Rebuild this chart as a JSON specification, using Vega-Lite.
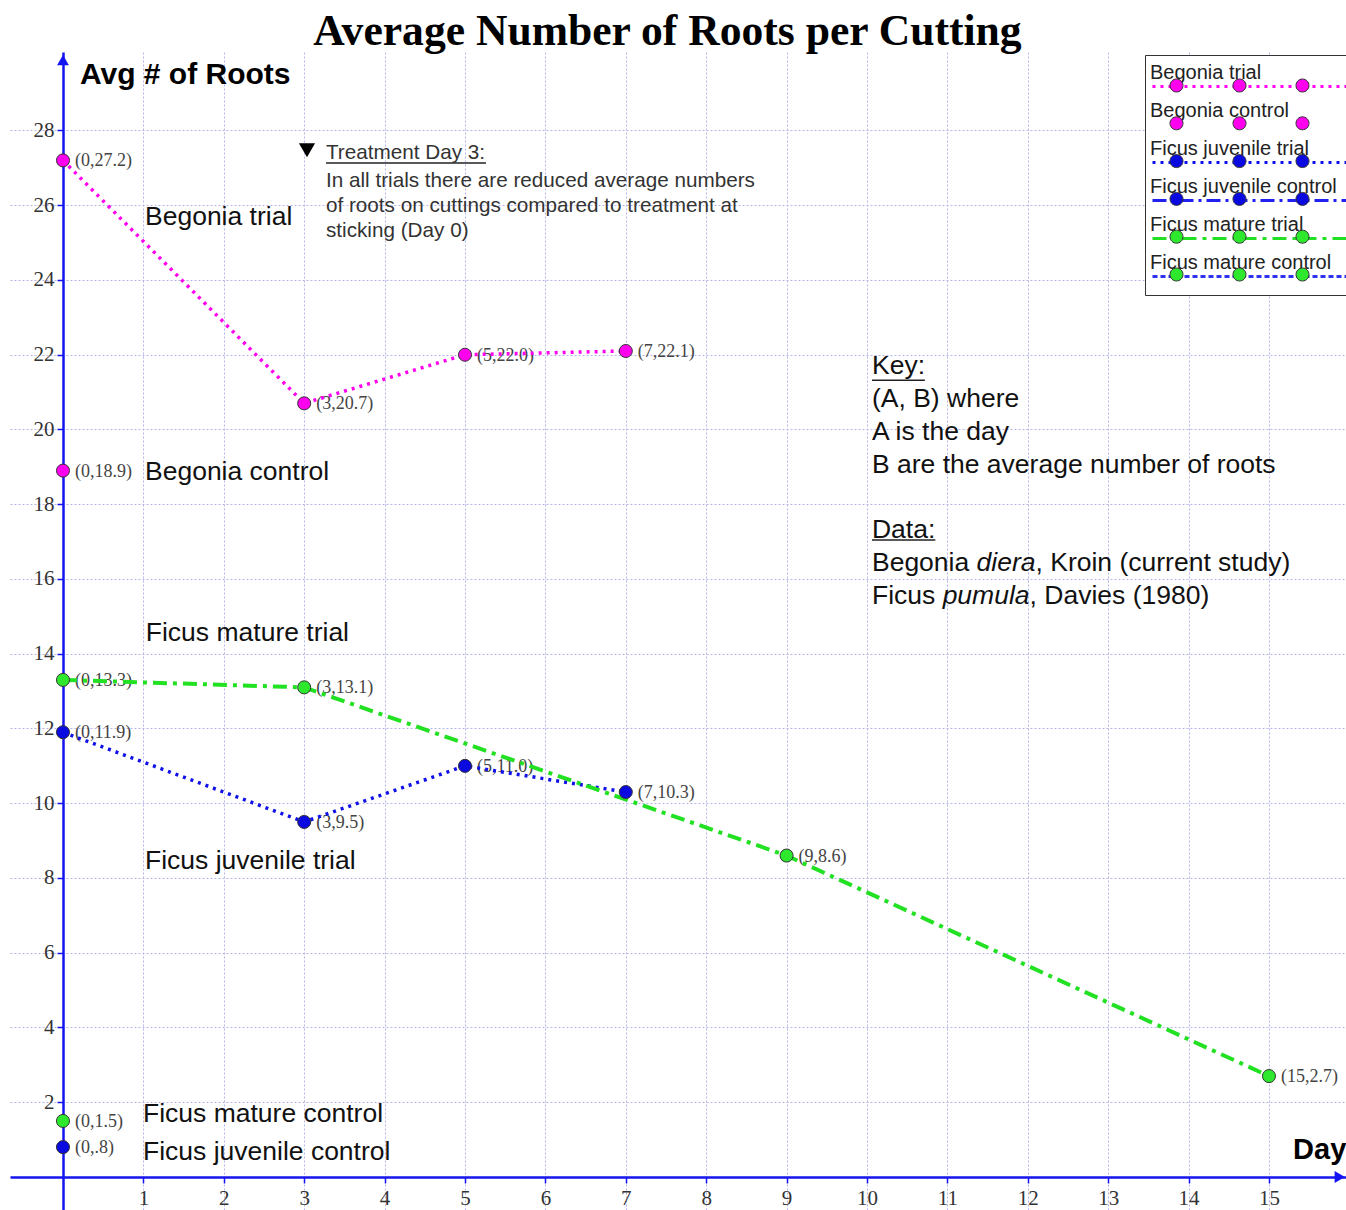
{
  "$schema": "https://vega.github.io/schema/vega-lite/v6.json",
  "width": 1336,
  "height": 1158,
  "autosize": {"type": "none"},
  "padding": {"left": 10, "top": 52, "right": 0, "bottom": 0},
  "background": "white",
  "config": {
    "view": {"stroke": null},
    "axis": {"gridColor": "#b4b4ea", "gridDash": [2, 2], "gridWidth": 1, "labelFont": "Liberation Serif", "labelFontSize": 21, "labelColor": "#333", "domainColor": "#1414f0", "domainWidth": 2.5, "tickColor": "#1414f0", "tickWidth": 1.5, "tickSize": 6}
  },
  "datasets": {
    "roots": [
      {"series": "Begonia trial", "day": 0, "roots": 27.2, "label": "(0,27.2)"},
      {"series": "Begonia trial", "day": 3, "roots": 20.7, "label": "(3,20.7)"},
      {"series": "Begonia trial", "day": 5, "roots": 22.0, "label": "(5,22.0)"},
      {"series": "Begonia trial", "day": 7, "roots": 22.1, "label": "(7,22.1)"},
      {"series": "Begonia control", "day": 0, "roots": 18.9, "label": "(0,18.9)"},
      {"series": "Ficus juvenile trial", "day": 0, "roots": 11.9, "label": "(0,11.9)"},
      {"series": "Ficus juvenile trial", "day": 3, "roots": 9.5, "label": "(3,9.5)"},
      {"series": "Ficus juvenile trial", "day": 5, "roots": 11.0, "label": "(5,11.0)"},
      {"series": "Ficus juvenile trial", "day": 7, "roots": 10.3, "label": "(7,10.3)"},
      {"series": "Ficus juvenile control", "day": 0, "roots": 0.8, "label": "(0,.8)"},
      {"series": "Ficus mature trial", "day": 0, "roots": 13.3, "label": "(0,13.3)"},
      {"series": "Ficus mature trial", "day": 3, "roots": 13.1, "label": "(3,13.1)"},
      {"series": "Ficus mature trial", "day": 9, "roots": 8.6, "label": "(9,8.6)"},
      {"series": "Ficus mature trial", "day": 15, "roots": 2.7, "label": "(15,2.7)"},
      {"series": "Ficus mature control", "day": 0, "roots": 1.5, "label": "(0,1.5)"}
    ],
    "seriesNames": [
      {"text": "Begonia trial", "day": 1.02, "roots": 25.68},
      {"text": "Begonia control", "day": 1.02, "roots": 18.86},
      {"text": "Ficus mature trial", "day": 1.03, "roots": 14.55},
      {"text": "Ficus juvenile trial", "day": 1.02, "roots": 8.45},
      {"text": "Ficus mature control", "day": 0.995, "roots": 1.685},
      {"text": "Ficus juvenile control", "day": 0.995, "roots": 0.669}
    ],
    "treatment": [
      {"text": "Treatment Day 3:", "day": 3.271, "roots": 27.39},
      {"text": "In all trials there are reduced average numbers", "day": 3.271, "roots": 26.65},
      {"text": "of roots on cuttings compared to treatment at", "day": 3.271, "roots": 25.98},
      {"text": "sticking (Day 0)", "day": 3.271, "roots": 25.31}
    ],
    "keyText": [
      {"text": "Key:", "day": 10.062, "roots": 21.70},
      {"text": "(A, B) where", "day": 10.062, "roots": 20.81},
      {"text": "A is the day", "day": 10.062, "roots": 19.93},
      {"text": "B are the average number of roots", "day": 10.062, "roots": 19.05},
      {"text": "Data:", "day": 10.062, "roots": 17.31},
      {"text": "Begonia", "day": 10.062, "roots": 16.43},
      {"text": ", Kroin (current study)", "day": 12.096, "roots": 16.43},
      {"text": "Ficus", "day": 10.062, "roots": 15.54},
      {"text": ", Davies (1980)", "day": 12.022, "roots": 15.54}
    ],
    "keyItalic": [
      {"text": "diera", "day": 11.363, "roots": 16.43},
      {"text": "pumula", "day": 10.941, "roots": 15.54}
    ],
    "underlines": [
      {"day": 3.271, "day2": 5.261, "roots": 27.13},
      {"day": 10.062, "day2": 10.72, "roots": 21.32},
      {"day": 10.062, "day2": 10.85, "roots": 17.04}
    ]
  },
  "encoding": {
    "x": {"field": "day", "type": "quantitative", "scale": {"domain": [-0.659, 15.958], "nice": false, "zero": false},
      "axis": {"title": null, "values": [1, 2, 3, 4, 5, 6, 7, 8, 9, 10, 11, 12, 13, 14, 15], "offset": -33, "grid": true, "labelPadding": 4}},
    "y": {"field": "roots", "type": "quantitative", "scale": {"domain": [-0.883, 30.1], "nice": false, "zero": false},
      "axis": {"title": null, "values": [2, 4, 6, 8, 10, 12, 14, 16, 18, 20, 22, 24, 26, 28], "offset": -53, "grid": true, "labelPadding": 3}}
  },
  "layer": [
    {
      "data": {"name": "underlines"},
      "mark": {"type": "rule", "color": "#222", "strokeWidth": 1.5},
      "encoding": {"x2": {"field": "day2"}}
    },
    {
      "data": {"name": "seriesNames"},
      "mark": {"type": "text", "align": "left", "baseline": "middle", "font": "Liberation Sans", "fontSize": 26.5, "color": "#111"},
      "encoding": {"text": {"field": "text"}}
    },
    {
      "data": {"name": "treatment"},
      "mark": {"type": "text", "align": "left", "baseline": "middle", "font": "Liberation Sans", "fontSize": 20.7, "color": "#333"},
      "encoding": {"text": {"field": "text"}}
    },
    {
      "data": {"name": "keyText"},
      "mark": {"type": "text", "align": "left", "baseline": "middle", "font": "Liberation Sans", "fontSize": 26.5, "color": "#111"},
      "encoding": {"text": {"field": "text"}}
    },
    {
      "data": {"name": "keyItalic"},
      "mark": {"type": "text", "align": "left", "baseline": "middle", "font": "Liberation Sans", "fontSize": 26.5, "fontStyle": "italic", "color": "#111"},
      "encoding": {"text": {"field": "text"}}
    },
    {
      "data": {"name": "roots"},
      "mark": {"type": "text", "align": "left", "baseline": "middle", "dx": 12, "dy": 1, "font": "Liberation Serif", "fontSize": 18, "color": "#444"},
      "encoding": {"text": {"field": "label"}}
    },
    {
      "data": {"name": "roots"},
      "mark": {"type": "line", "strokeCap": "butt"},
      "encoding": {
        "stroke": {"field": "series", "type": "nominal",
          "scale": {"domain": ["Begonia trial", "Begonia control", "Ficus juvenile trial", "Ficus juvenile control", "Ficus mature trial", "Ficus mature control"],
                    "range": ["#ff00ee", "transparent", "#1010e8", "#2020f0", "#22e022", "#3030f0"]},
          "legend": {"orient": "none", "legendX": 1135, "legendY": 3, "title": null, "symbolType": "M-4.3875,0.844M-5.9375,0.5L6.5625,0.5", "symbolSize": 1024, "symbolOffset": 79, "symbolStrokeWidth": 3,
            "labelOffset": -115, "labelBaseline": "alphabetic", "labelFont": "Liberation Sans", "labelFontSize": 20, "labelColor": "#222", "labelLimit": 400,
            "rowPadding": 0, "padding": 6, "strokeColor": "#333", "fillColor": "white"}},
        "strokeDash": {"field": "series", "type": "nominal",
          "scale": {"domain": ["Begonia trial", "Begonia control", "Ficus juvenile trial", "Ficus juvenile control", "Ficus mature trial", "Ficus mature control"],
                    "range": [[3, 5], [1, 0], [3, 5], [14, 5, 3, 5], [14, 6, 4, 6], [5, 3]]},
          "legend": {"orient": "none", "legendX": 1135, "legendY": 3, "title": null, "symbolType": "M-4.3875,0.844M-5.9375,0.5L6.5625,0.5", "symbolSize": 1024, "symbolOffset": 79, "symbolStrokeWidth": 3,
            "labelOffset": -115, "labelBaseline": "alphabetic", "labelFont": "Liberation Sans", "labelFontSize": 20, "labelColor": "#222", "labelLimit": 400,
            "rowPadding": 0, "padding": 6, "strokeColor": "#333", "fillColor": "white"}},
        "strokeWidth": {"condition": {"test": "datum.series === 'Ficus mature trial'", "value": 4}, "value": 3.5}
      }
    },
    {
      "data": {"name": "roots"},
      "mark": {"type": "point", "filled": true, "size": 170, "stroke": "#333", "strokeWidth": 1, "opacity": 1},
      "encoding": {
        "fill": {"field": "series", "type": "nominal", "sort": "ascending",
          "scale": {"range": ["#ff00ee", "#ff00ee", "#0a0ae0", "#0a0ae0", "#2ee82e", "#2ee82e"]},
          "legend": {"orient": "none", "legendX": 1135, "legendY": 3, "title": null,
            "symbolType": "M-4.781,0.5A0.406,0.406 0 1,0 -3.969,0.5A0.406,0.406 0 1,0 -4.781,0.5Z M-0.844,0.5A0.406,0.406 0 1,0 -0.031,0.5A0.406,0.406 0 1,0 -0.844,0.5Z M3.094,0.5A0.406,0.406 0 1,0 3.906,0.5A0.406,0.406 0 1,0 3.094,0.5Z",
            "symbolSize": 1024, "symbolOffset": 79, "symbolStrokeColor": "#333", "symbolStrokeWidth": 1, "symbolOpacity": 1,
            "labelOffset": -115, "labelBaseline": "alphabetic", "labelFont": "Liberation Sans", "labelFontSize": 20, "labelOpacity": 0, "labelLimit": 400,
            "rowPadding": 3.8, "padding": 6, "strokeColor": "transparent", "fillColor": "transparent",
            "values": ["Begonia trial", "Begonia control", "Ficus juvenile trial", "Ficus juvenile control", "Ficus mature trial", "Ficus mature control"]}}
      }
    },
    {
      "data": {"values": [{"day": 3.035, "roots": 27.47}]},
      "mark": {"type": "point", "shape": "triangle-down", "filled": true, "size": 260, "color": "#000", "opacity": 1}
    },
    {
      "data": {"values": [{"day": 0, "roots": 29.88}]},
      "mark": {"type": "point", "shape": "triangle-up", "filled": true, "size": 140, "color": "#1414f0", "opacity": 1}
    },
    {
      "data": {"values": [{"day": 15.88, "roots": 0}]},
      "mark": {"type": "point", "shape": "triangle-right", "filled": true, "size": 140, "color": "#1414f0", "opacity": 1}
    },
    {
      "data": {"values": [{"text": "Avg # of Roots", "day": 0.211, "roots": 29.48}]},
      "mark": {"type": "text", "align": "left", "baseline": "middle", "font": "Liberation Sans", "fontSize": 30, "fontWeight": "bold", "color": "#000"},
      "encoding": {"text": {"field": "text"}}
    },
    {
      "data": {"values": [{"text": "Day", "day": 15.30, "roots": 0.72}]},
      "mark": {"type": "text", "align": "left", "baseline": "middle", "font": "Liberation Sans", "fontSize": 29, "fontWeight": "bold", "color": "#000"},
      "encoding": {"text": {"field": "text"}}
    },
    {
      "data": {"values": [{"text": "Average Number of Roots per Cutting", "day": 7.519, "roots": 30.28}]},
      "mark": {"type": "text", "align": "center", "baseline": "alphabetic", "font": "Liberation Serif", "fontSize": 43.6, "fontWeight": "bold", "color": "#000"},
      "encoding": {"text": {"field": "text"}}
    }
  ]
}
